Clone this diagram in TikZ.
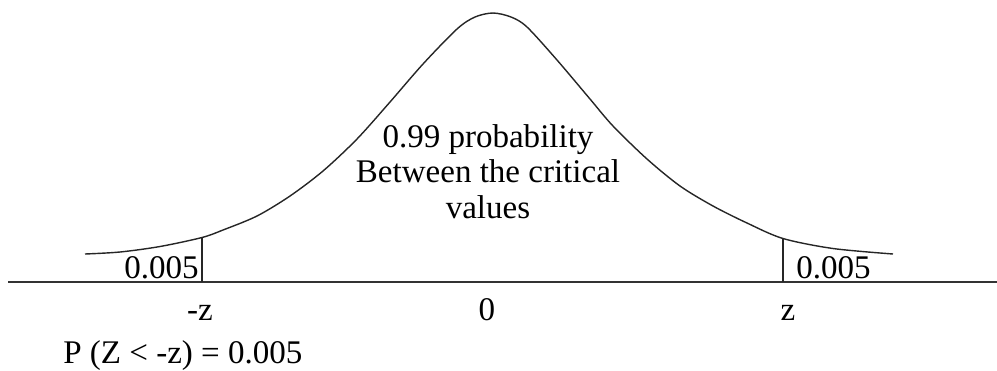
\documentclass[tikz,border=0pt]{standalone}
\usepackage{fontspec}
\setmainfont{Liberation Serif}
\begin{document}
\begin{tikzpicture}[x=0.02cm,y=-0.02cm,
  lbl/.style={inner sep=0pt,anchor=base,font=\fontsize{18.8}{20}\selectfont},
  curveline/.style={line width=0.8pt,black!85},
  axisline/.style={line width=1.1pt,black!80},
  cutline/.style={line width=0.6pt,black!85}]
\useasboundingbox (0,0) rectangle (997,370);
% axis
\coordinate (axL) at (8,282);
\coordinate (axR) at (997,282);
\draw[axisline] (axL) -- (axR);
% curve
\draw[curveline] plot[smooth,tension=0.5] coordinates {(85,254) (120,252) (160,246.5) (202,237.5) (223,230) (257,216) (290,196) (323,171) (357,139) (390,102) (423,64) (457,29) (475,17) (493,13) (511,17) (527,27) (557,60) (590,99) (613,126) (647,159) (680,186) (713,206) (747,223) (783,238.5) (833,248.5) (893,254)};
% critical value lines
\coordinate (cL) at (202,237.5);
\coordinate (cLb) at (202,282);
\coordinate (cR) at (783,238.5);
\coordinate (cRb) at (783,282);
\draw[cutline] (cL) -- (cLb);
\draw[cutline] (cR) -- (cRb);
% labels
\node[lbl,align=center] (mid) at (488,218) {0.99 probability\\Between the critical\\values};
\node[lbl] (tl) at (161.5,278) {0.005};
\node[lbl] (tr) at (833.5,278) {0.005};
\node[lbl] (mz) at (200,320) {-z};
\node[lbl] (zero) at (487,320) {0};
\node[lbl] (pz) at (788,320) {z};
\node[lbl,anchor=base west] (prob) at (63,363) {P (Z < -z) = 0.005};
\end{tikzpicture}
\end{document}
